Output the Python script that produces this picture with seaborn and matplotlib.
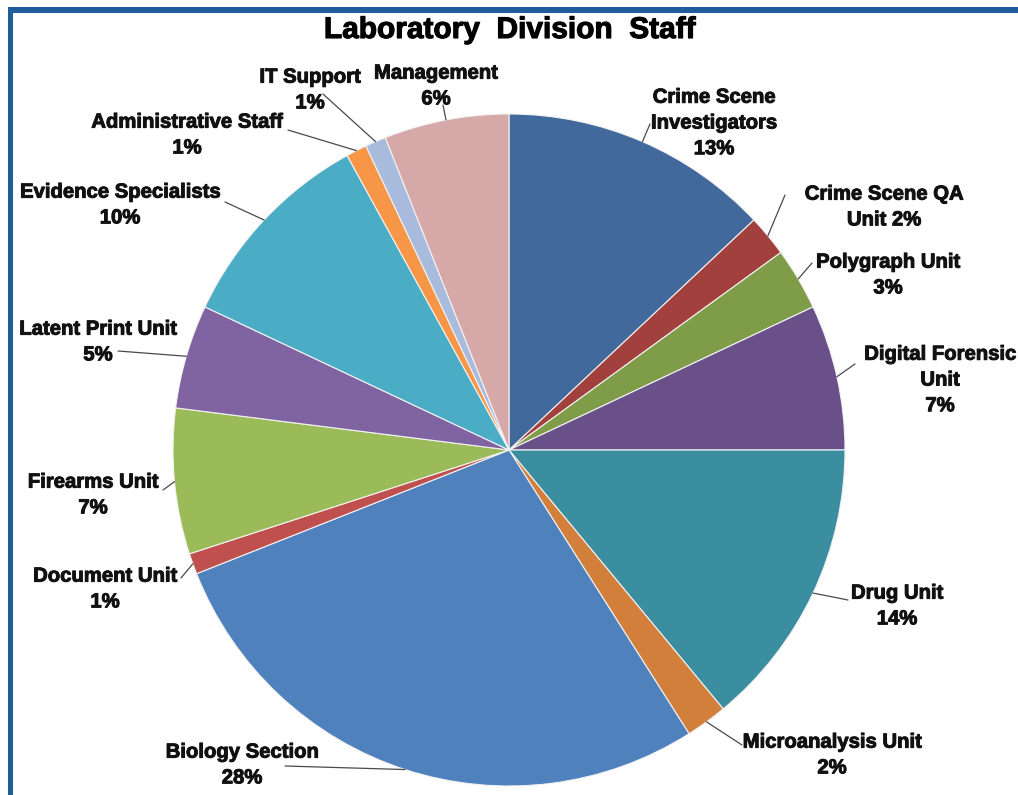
import numpy as np
import matplotlib
matplotlib.use("Agg")
import matplotlib.pyplot as plt
import matplotlib.patheffects as pe
from matplotlib.patches import Rectangle
import seaborn as sns

sns.set_theme(style="white")
plt.rcParams["font.family"] = ["Liberation Sans", "DejaVu Sans"]

# Staff share by unit, clockwise from 12 o'clock
units = [
    "Crime Scene\nInvestigators", "Crime Scene QA\nUnit", "Polygraph Unit",
    "Digital Forensic\nUnit", "Drug Unit", "Microanalysis Unit",
    "Biology Section", "Document Unit", "Firearms Unit", "Latent Print Unit",
    "Evidence Specialists", "Administrative Staff", "IT Support", "Management",
]
shares = [13, 2, 3, 7, 14, 2, 28, 1, 7, 5, 10, 1, 1, 6]
colors = [
    "#41699b", "#a2403d", "#7f9c48", "#6a5088", "#3b8da0", "#d27f3b",
    "#4f81bd", "#c0504d", "#9bbb59", "#8064a2", "#4bacc6", "#f79646",
    "#a9bbdc", "#d6a8a8",
]

W, H = 1018, 795
CX, CY, R = 509, 450, 336  # pie centre and radius in pixels

# label block centre and leader-line end point, in pixels from top-left
label_layout = [
    ((714, 123), (650, 124)),
    ((884, 207), (785, 195)),
    ((888, 275), (812, 263)),
    ((940, 380), (855, 364)),
    ((897, 606), (848, 600)),
    ((832, 755), (742, 745)),
    ((242, 765), (285, 766)),
    ((105, 589), (181, 578)),
    ((93, 495), (163, 490)),
    ((98, 342), (118, 351)),
    ((120, 205), (225, 202)),
    ((187, 135), (288, 130)),
    ((310, 90), (323, 94)),
    ((436, 86), (443, 105)),
]

fig = plt.figure(figsize=(W / 100, H / 100), dpi=100)
fig.patch.set_facecolor("white")

ax = fig.add_axes([(CX - R) / W, (H - CY - R) / H, 2 * R / W, 2 * R / H])
ax.pie(
    shares, colors=colors, startangle=90, counterclock=False, radius=1,
    wedgeprops=dict(edgecolor="#f2f2f2", linewidth=0.8),
)
ax.set_xlim(-1, 1)
ax.set_ylim(-1, 1)
ax.set_aspect("auto")
ax.axis("off")


def to_data(p):
    return (p[0] - CX) / R, (CY - p[1]) / R


heavy = [pe.withStroke(linewidth=0.7, foreground="#111111")]

total = sum(shares)
cum = 0.0
for name, val, (txt_pos, end_pos) in zip(units, shares, label_layout):
    mid = (cum + val / 2) / total * 2 * np.pi
    cum += val
    ex, ey = np.sin(mid), np.cos(mid)
    lx, ly = to_data(end_pos)
    ax.plot([ex, lx], [ey, ly], color="#4a4a4a", lw=0.9, clip_on=False)
    pct = f"{val}%"
    if name.endswith("QA\nUnit"):
        text = f"{name} {pct}"
    else:
        text = f"{name}\n{pct}"
    fig.text(txt_pos[0] / W, 1 - txt_pos[1] / H, text, ha="center", va="center",
             fontsize=14.6, fontweight="bold", color="#111111", linespacing=1.45,
             path_effects=heavy)

fig.text(510 / W, 1 - 30 / H, "Laboratory  Division  Staff", ha="center", va="center",
         fontsize=21.5, fontweight="bold", color="black",
         family=["Liberation Sans Narrow", "Liberation Sans", "DejaVu Sans"],
         path_effects=[pe.withStroke(linewidth=0.8, foreground="black")])

# blue frame along top and left edges
frame = "#1e5c9c"
fig.add_artist(Rectangle((8 / W, 0), 5 / W, 1 - 8 / H, transform=fig.transFigure,
                         facecolor=frame, edgecolor="none"))
fig.add_artist(Rectangle((8 / W, 1 - 13 / H), 1 - 8 / W, 6 / H, transform=fig.transFigure,
                         facecolor=frame, edgecolor="none"))

fig.savefig("out.png", dpi=100, facecolor="white")
